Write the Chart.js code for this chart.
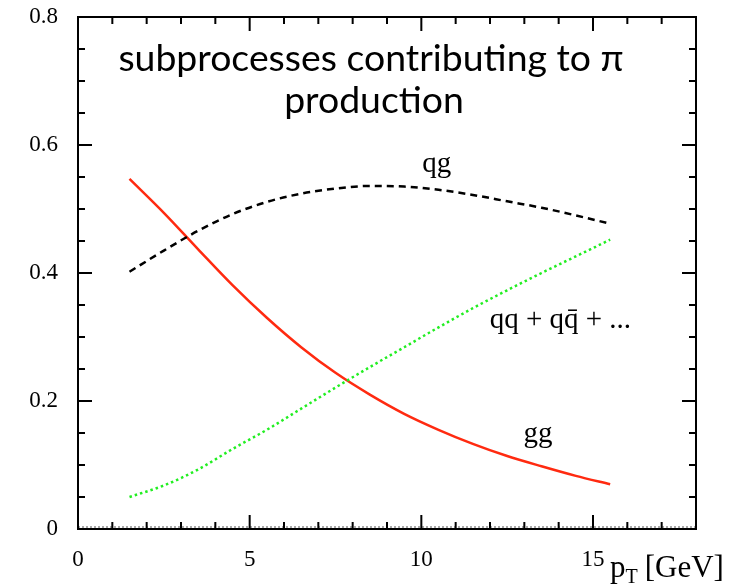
<!DOCTYPE html>
<html><head><meta charset="utf-8">
<script src="https://cdn.jsdelivr.net/npm/chart.js@4.4.1/dist/chart.umd.min.js"></script>
<style>html,body{margin:0;padding:0;background:#fff;overflow:hidden}</style>
</head><body>
<canvas id="c" width="744" height="584" style="display:block;width:744px;height:584px"></canvas>
<script>
// transverse momentum p_T [GeV]
const ptValues  = [1.5, 2.5, 3.5, 4.5, 5.5, 6.5, 7.5, 8.5, 9.5, 10.5, 11.5, 12.5, 13.5, 14.5, 15.5];
// fractional contributions
const ggValues  = [0.547, 0.494, 0.437, 0.381, 0.330, 0.284, 0.244, 0.210, 0.180, 0.155, 0.133, 0.114, 0.098, 0.083, 0.070];
const qgValues  = [0.402, 0.435, 0.466, 0.492, 0.511, 0.524, 0.532, 0.536, 0.535, 0.530, 0.522, 0.512, 0.502, 0.490, 0.477];
const qqValues  = [0.050, 0.068, 0.093, 0.125, 0.155, 0.188, 0.221, 0.253, 0.284, 0.315, 0.345, 0.373, 0.400, 0.426, 0.452];
const xTickLabels = [0, 5, 10, 15];
const yTickLabels = [0, 0.2, 0.4, 0.6, 0.8];
const titleLines = ['subprocesses contributing to \u03C0', 'production'];
const curveLabels = [
  {text: 'qg', x: 10.45, y: 0.558},
  {text: 'qq + qq\u0304 + ...', x: 14.05, y: 0.314},
  {text: 'gg', x: 13.4, y: 0.136}
];

const toPts = (ys) => ys.map((v, i) => ({x: ptValues[i], y: v}));

const serif = '"Liberation Serif", "DejaVu Serif", serif';

const framePlugin = {
  id: 'frame',
  afterDraw(chart) {
    const {ctx, chartArea: a, scales: {x, y}} = chart;
    ctx.save();
    ctx.strokeStyle = '#000';
    ctx.lineWidth = 2;
    // dotted baseline at y=0
    ctx.save();
    ctx.setLineDash([2, 2]);
    ctx.lineWidth = 1;
    ctx.strokeStyle = '#555';
    ctx.beginPath(); ctx.moveTo(a.left, a.bottom - 2); ctx.lineTo(a.right, a.bottom - 2); ctx.stroke();
    ctx.restore();
    ctx.strokeRect(a.left, a.top, a.right - a.left, a.bottom - a.top);
    ctx.beginPath();
    for (let v = 0; v <= 18; v++) {
      const px = x.getPixelForValue(v);
      const len = xTickLabels.includes(v) ? 14 : 7;
      ctx.moveTo(px, a.bottom); ctx.lineTo(px, a.bottom - len);
      ctx.moveTo(px, a.top); ctx.lineTo(px, a.top + len);
    }
    for (let k = 0; k <= 16; k++) {
      const v = k * 0.05;
      const py = y.getPixelForValue(v);
      const len = (k % 4 === 0) ? 14 : 7;
      ctx.moveTo(a.left, py); ctx.lineTo(a.left + len, py);
      ctx.moveTo(a.right, py); ctx.lineTo(a.right - len, py);
    }
    ctx.stroke();

    // axis title p_T [GeV]
    ctx.fillStyle = '#000';
    ctx.textBaseline = 'alphabetic';
    ctx.textAlign = 'left';
    ctx.font = '31px ' + serif;
    let tx = 610, ty = 577;
    ctx.fillText('p', tx, ty);
    tx += ctx.measureText('p').width;
    ctx.font = '20px ' + serif;
    ctx.fillText('T', tx, ty + 6);
    tx += ctx.measureText('T').width + 7;
    ctx.font = '31px ' + serif;
    ctx.fillText('[GeV]', tx, ty);

    // curve labels
    ctx.font = '29px ' + serif;
    ctx.textAlign = 'center';
    curveLabels.forEach(l => {
      ctx.fillText(l.text, x.getPixelForValue(l.x), y.getPixelForValue(l.y));
    });

    // title
    let fs = 30;
    ctx.font = fs + 'px Lato, "Open Sans", sans-serif';
    const w = ctx.measureText(titleLines[0]).width;
    fs = fs * 506 / w;
    ctx.font = fs.toFixed(1) + 'px Lato, "Open Sans", sans-serif';
    ctx.fillText(titleLines[0], 371, 71);
    ctx.fillText(titleLines[1], 374, 113);
    ctx.restore();
  }
};

new Chart(document.getElementById('c'), {
  type: 'line',
  data: {
    datasets: [
      {label: 'qg', data: toPts(qgValues), borderColor: '#000', borderWidth: 2.5, borderDash: [7, 5], pointRadius: 0, cubicInterpolationMode: 'monotone', fill: false},
      {label: 'qq + qq\u0304 + ...', data: toPts(qqValues), borderColor: '#22ee22', borderWidth: 2.5, borderDash: [2.5, 3], pointRadius: 0, cubicInterpolationMode: 'monotone', fill: false},
      {label: 'gg', data: toPts(ggValues), borderColor: '#ff2a10', borderWidth: 2.5, pointRadius: 0, cubicInterpolationMode: 'monotone', fill: false}
    ]
  },
  options: {
    responsive: false,
    animation: false,
    layout: {padding: {top: 17, right: 48, left: 0, bottom: 0}},
    plugins: {legend: {display: false}, tooltip: {enabled: false}, title: {display: false}},
    scales: {
      x: {
        type: 'linear', min: 0, max: 18,
        grid: {display: false, drawTicks: false},
        border: {display: false},
        afterFit: (s) => { s.height = 55; s.paddingLeft = 0; s.paddingRight = 0; },
        ticks: {
          stepSize: 1, autoSkip: false, maxRotation: 0, padding: 17,
          color: '#000', font: {family: serif, size: 23},
          callback: (v) => xTickLabels.includes(v) ? String(v) : ''
        }
      },
      y: {
        type: 'linear', min: 0, max: 0.8,
        grid: {display: false, drawTicks: false},
        border: {display: false},
        afterFit: (s) => { s.width = 78; s.paddingTop = 0; s.paddingBottom = 0; },
        ticks: {
          stepSize: 0.2, autoSkip: false, padding: 20,
          color: '#000', font: {family: serif, size: 23},
          callback: (v) => {
            const r = Math.round(v * 100) / 100;
            return yTickLabels.includes(r) ? (r === 0 ? '0' : r.toFixed(1)) : '';
          }
        }
      }
    }
  },
  plugins: [framePlugin]
});
</script>
</body></html>
